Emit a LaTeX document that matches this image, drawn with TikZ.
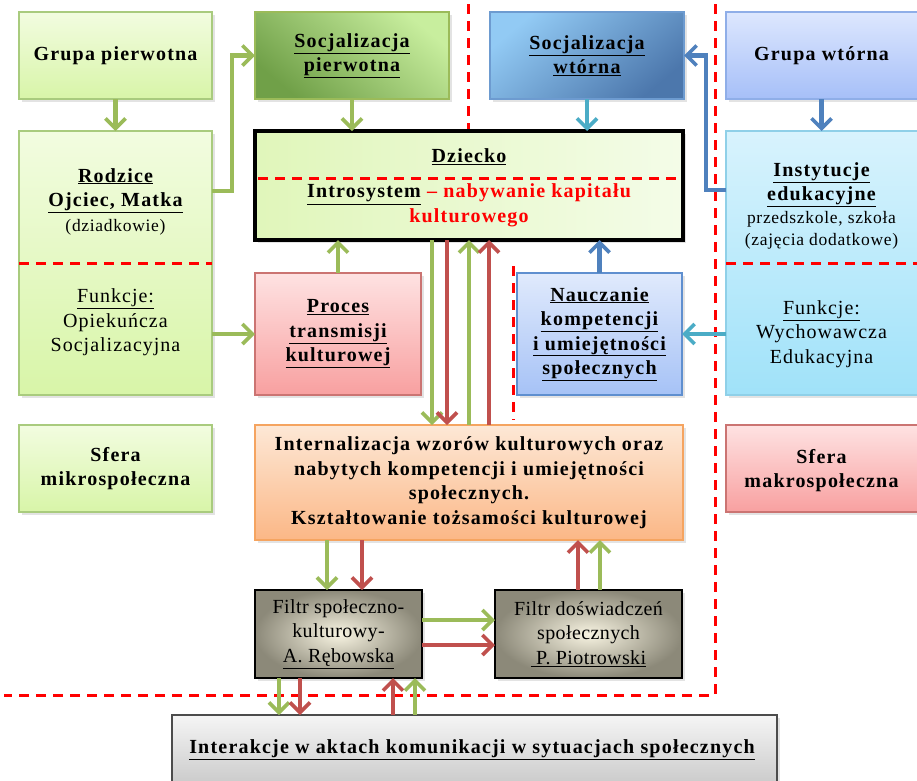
\documentclass[tikz,border=0pt]{standalone}
\usepackage{fontspec}
\setmainfont{Liberation Serif}
\usetikzlibrary{arrows.meta,shadows,calc}

\definecolor{arrgreen}{HTML}{9BBB59}
\definecolor{arrred}{HTML}{C0504D}
\definecolor{arrblue}{HTML}{4F81BD}
\definecolor{arrteal}{HTML}{4BACC6}
\definecolor{dashred}{HTML}{FF0000}
\definecolor{lgtop}{HTML}{F2FCE0}
\definecolor{lgbot}{HTML}{D8F5A8}
\definecolor{lgdraw}{HTML}{A9CB7E}
\definecolor{sptop}{HTML}{C8EE9E}
\definecolor{spbot}{HTML}{70A048}
\definecolor{swtop}{HTML}{92CAF4}
\definecolor{swbot}{HTML}{4C77AC}
\definecolor{swdraw}{HTML}{6D9BD0}
\definecolor{gwtop}{HTML}{DDE7FE}
\definecolor{gwbot}{HTML}{A6BFF8}
\definecolor{gwdraw}{HTML}{8FAEE8}
\definecolor{intop}{HTML}{D8F3FD}
\definecolor{inbot}{HTML}{A0E2F9}
\definecolor{indraw}{HTML}{8FD0E8}
\definecolor{prtop}{HTML}{FEE2E2}
\definecolor{prbot}{HTML}{F8A0A0}
\definecolor{prdraw}{HTML}{CB7472}
\definecolor{natop}{HTML}{E0EAFC}
\definecolor{nabot}{HTML}{A6C2F6}
\definecolor{nadraw}{HTML}{5F8FCF}
\definecolor{ortop}{HTML}{FDE8D6}
\definecolor{orbot}{HTML}{FBB786}
\definecolor{ordraw}{HTML}{F5A460}
\definecolor{dzleft}{HTML}{E0F6BA}
\definecolor{dzright}{HTML}{F4FCE8}
\definecolor{fin}{HTML}{F8F4E2}
\definecolor{fout}{HTML}{8C8979}
\definecolor{gytop}{HTML}{F5F5F5}
\definecolor{gybot}{HTML}{C4C4C4}

\begin{document}
\begin{tikzpicture}[x=1pt,y=-1pt,
  bx/.style={anchor=north west,inner sep=0pt,outer sep=0pt,line width=1.3pt,
    drop shadow={opacity=0.22,shadow xshift=2.5pt,shadow yshift=-2.5pt}},
  lgreen/.style={bx,draw=lgdraw,top color=lgtop,bottom color=lgbot},
  sochp/.style={bx,draw=arrgreen,top color=sptop,bottom color=spbot,shading angle=-40},
  sochw/.style={bx,draw=swdraw,top color=swtop,bottom color=swbot,shading angle=40},
  lblue/.style={bx,draw=gwdraw,top color=gwtop,bottom color=gwbot},
  lcyan/.style={bx,draw=indraw,top color=intop,bottom color=inbot},
  lpink/.style={bx,draw=prdraw,top color=prtop,bottom color=prbot},
  mblue/.style={bx,draw=nadraw,top color=natop,bottom color=nabot},
  lorange/.style={bx,draw=ordraw,top color=ortop,bottom color=orbot},
  filterbox/.style={bx,draw=black,line width=1.1pt,inner color=fin,outer color=fout},
  greybox/.style={bx,draw=black!70,line width=1.1pt,top color=gytop,bottom color=gybot},
  childbox/.style={bx,draw=black,line width=4pt,left color=dzleft,right color=dzright},
  bt/.style={align=center,inner sep=0pt,
    font=\fontsize{20}{24.5}\selectfont\bfseries\addfontfeatures{LetterSpace=6}},
  rt/.style={align=center,inner sep=0pt,
    font=\fontsize{20}{24.5}\selectfont\addfontfeatures{LetterSpace=5}},
  ft/.style={align=center,inner sep=0pt,
    font=\fontsize{20}{24.5}\selectfont\addfontfeatures{LetterSpace=2}},
  st/.style={align=center,inner sep=0pt,
    font=\fontsize{17.5}{22}\selectfont\addfontfeatures{LetterSpace=4}},
  tip/.style={-{Straight Barb[length=10pt,width=20pt,line width=3.6pt]}},
  ga/.style={tip,draw=arrgreen,line width=4.5pt},
  ra/.style={tip,draw=arrred,line width=4.5pt},
  ba/.style={tip,draw=arrblue,line width=4.5pt},
  ta/.style={tip,draw=arrteal,line width=4.5pt},
  dsh/.style={draw=dashred,line width=3pt,dash pattern=on 10pt off 7pt}
]
\useasboundingbox (0,0) rectangle (917,780);
\fill[white] (0,0) rectangle (917,780);
\clip (0,0) rectangle (917,780);

% frontier lines between the spheres
\draw[dsh] (468,4) -- (468,129);
\draw[dsh] (715,4) -- (715,695) -- (4,695);
\draw[dsh] (513,266) -- (513,420);

% top row
\node[lgreen,minimum width=193pt,minimum height=87pt,bt] (gp) at (19,12) {Grupa pierwotna};
\node[sochp,minimum width=194pt,minimum height=87pt,bt] (socp) at (255,12)
  {\underline{Socjalizacja}\\\underline{pierwotna}};
\node[sochw,minimum width=194pt,minimum height=87pt,bt] (socw) at (490,12)
  {\underline{Socjalizacja}\\\underline{wtórna}};
\node[lblue,minimum width=198pt,minimum height=87pt] (gw) at (726,12) {};
\node[bt] (gwt) at (821.5,55.5) {Grupa wtórna};

% family and institutions
\node[lgreen,minimum width=193pt,minimum height=264pt] (rodz) at (19,131) {};
\draw[dsh] (rodz.west) -- (rodz.east);
\node[bt] (rodzt) at (115.5,190.5) {\underline{Rodzice}\\\underline{Ojciec, Matka}};
\node[st] (dziad) at (115.5,227) {(dziadkowie)};
\node[rt] (funl) at (115.5,322.5) {\underline{Funkcje:}\\Opiekuńcza\\Socjalizacyjna};

\node[lcyan,minimum width=198pt,minimum height=264pt] (inst) at (726,131) {};
\draw[dsh] (inst.west) -- ++(200,0);
\node[bt] (instt) at (821.5,184.5) {\underline{Instytucje}\\\underline{edukacyjne}};
\node[st] (insts) at (821.5,230) {przedszkole, szkoła\\(zajęcia dodatkowe)};
\node[rt] (funr) at (821.5,334) {\underline{Funkcje:}\\Wychowawcza\\Edukacyjna};

% the child
\node[childbox,minimum width=428pt,minimum height=109pt] (dz) at (255,131) {};
\draw[dsh] ($(dz.north west)+(3,47)$) -- ($(dz.north east)+(-3,47)$);
\node[bt] (dzt) at (469,157) {\underline{Dziecko}};
\node[bt] (intro) at (469,205.5)
  {\underline{Introsystem} \textcolor{dashred}{– nabywanie kapitału}\\\textcolor{dashred}{kulturowego}};

% middle row
\node[lpink,minimum width=166pt,minimum height=122pt,bt] (proc) at (255,273)
  {\underline{Proces}\\\underline{transmisji}\\\underline{kulturowej}};
\node[mblue,minimum width=165pt,minimum height=122pt,bt] (naucz) at (517,273)
  {\underline{Nauczanie}\\\underline{kompetencji}\\\underline{i umiejętności}\\\underline{społecznych}};

% spheres and internalisation
\node[lgreen,minimum width=193pt,minimum height=87pt,bt] (mikro) at (19,425) {Sfera\\mikrospołeczna};
\node[lorange,minimum width=428pt,minimum height=115pt,bt] (intern) at (255,425)
  {Internalizacja wzorów kulturowych oraz\\nabytych kompetencji i umiejętności\\społecznych.\\Kształtowanie tożsamości kulturowej};
\node[lpink,minimum width=198pt,minimum height=87pt] (makro) at (726,425) {};
\node[bt] (makrot) at (821.5,470.5) {Sfera\\makrospołeczna};

% filters
\node[filterbox,minimum width=167pt,minimum height=88pt,ft] (f1) at (255,590)
  {Filtr społeczno-\\kulturowy-\\\underline{A. Rębowska}};
\node[filterbox,minimum width=187pt,minimum height=88pt,ft] (f2) at (495,590)
  {Filtr doświadczeń\\społecznych\\\underline{\ P. Piotrowski}};

% interactions
\node[greybox,minimum width=605pt,minimum height=80pt] (inter) at (172,715) {};
\node[bt] (intert) at (472,750)
  {\underline{Interakcje w aktach komunikacji w sytuacjach społecznych}};

% connectors: primary socialisation
\draw[ga] (gp.south) -- (rodz.north);
\draw[ga] ($(rodz.north east)+(0,60)$) -- ++(20,0) |- (socp.west);
\draw[ga] (socp.south) -- (socp.south |- dz.north);
\draw[ga] (proc.west -| rodz.east) -- (proc.west);
\draw[ga] (proc.north) -- (proc.north |- dz.south);

% connectors: secondary socialisation
\draw[ba] (gw.south -| gwt) -- (gwt |- inst.north);
\draw[ba] ($(inst.north west)+(0,59)$) -- ++(-20,0) |- (socw.east);
\draw[ta] (socw.south) -- (socw.south |- dz.north);
\draw[ta] (naucz.east -| inst.west) -- (naucz.east);
\draw[ba] (naucz.north) -- (naucz.north |- dz.south);

% child <-> internalisation
\draw[ga] ($(dz.south west)+(177,0)$) -- ($(intern.north west)+(177,0)$);
\draw[ra] ($(dz.south west)+(192,0)$) -- ($(intern.north west)+(192,0)$);
\draw[ga] ($(intern.north west)+(214,0)$) -- ($(dz.south west)+(214,0)$);
\draw[ra] ($(intern.north west)+(234,0)$) -- ($(dz.south west)+(234,0)$);

% anchor points on the filters
\coordinate (f1a) at ($(f1.north east)+(0,30)$);
\coordinate (f1b) at ($(f1.north east)+(0,55)$);
\coordinate (f2a) at ($(f2.north west)+(83,0)$);
\coordinate (f2b) at ($(f2.north west)+(105,0)$);
\coordinate (f1c) at ($(f1.south west)+(24,0)$);
\coordinate (f1d) at ($(f1.south west)+(45,0)$);
\coordinate (f1e) at ($(f1.south west)+(138,0)$);
\coordinate (f1f) at ($(f1.south west)+(160,0)$);

% internalisation <-> filters
\draw[ga] ($(intern.south west)+(72,0)$) -- ($(f1.north west)+(72,0)$);
\draw[ra] ($(intern.south west)+(107,0)$) -- ($(f1.north west)+(107,0)$);
\draw[ra] (f2a) -- (f2a |- intern.south);
\draw[ga] (f2b) -- (f2b |- intern.south);
\draw[ga] (f1a) -- (f1a -| f2.west);
\draw[ra] (f1b) -- (f1b -| f2.west);

% filters <-> interactions
\draw[ga] (f1c) -- (f1c |- inter.north);
\draw[ra] (f1d) -- (f1d |- inter.north);
\draw[ra] (f1e |- inter.north) -- (f1e);
\draw[ga] (f1f |- inter.north) -- (f1f);
\end{tikzpicture}
\end{document}
